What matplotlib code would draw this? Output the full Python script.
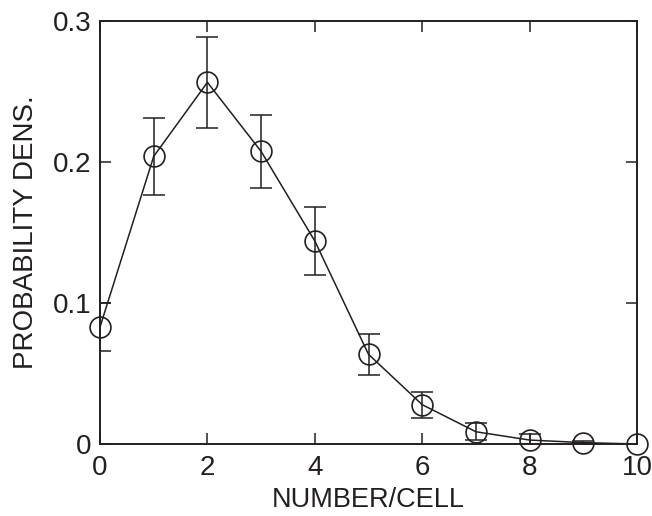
import matplotlib.pyplot as plt
import numpy as np

plt.rcParams['font.family'] = ['Liberation Sans', 'DejaVu Sans']

# occupancy distribution per cell
number = [0, 1, 2, 3, 4, 5, 6, 7, 8, 9, 10]
density = [0.083, 0.204, 0.2565, 0.2075, 0.144, 0.0636, 0.0279, 0.0087, 0.0028, 0.001, 0.0]
err = [0.017, 0.0275, 0.0322, 0.0256, 0.0238, 0.0144, 0.0092, 0.0062, 0.004, 0.001, 0.0]

col = '#231f20'

fig = plt.figure(figsize=(6.52, 5.16), dpi=100)
ax = fig.add_axes([0.1534, 0.1395, 0.977 - 0.1534, 0.9593 - 0.1395])

ax.errorbar(number, density, yerr=err, fmt='none', ecolor=col,
            elinewidth=1.1, capsize=8, capthick=1.1)
ax.plot(number, density, '-', color=col, lw=1.1)
ax.plot(number, density, 'o', mfc='none', mec=col, ms=15, mew=1.2, clip_on=False)

ax.set_xlim(0, 10)
ax.set_ylim(0, 0.3)
ax.set_xticks([0, 2, 4, 6, 8, 10])
ax.set_yticks([0, 0.1, 0.2, 0.3])
ax.set_yticklabels(['0', '0.1', '0.2', '0.3'])
ax.tick_params(direction='in', length=8, width=1.1, color=col, labelsize=20,
               top=True, right=True, labelcolor=col)
ax.tick_params(axis='x', pad=8)
ax.tick_params(axis='y', pad=6)
for s in ax.spines.values():
    s.set_linewidth(1.4)
    s.set_color(col)

ax.set_xlabel('NUMBER/CELL', fontsize=19.5, color=col, labelpad=4)
ax.set_ylabel('PROBABILITY DENS.', fontsize=20, color=col, labelpad=10)

fig.savefig('out.png', dpi=100)
